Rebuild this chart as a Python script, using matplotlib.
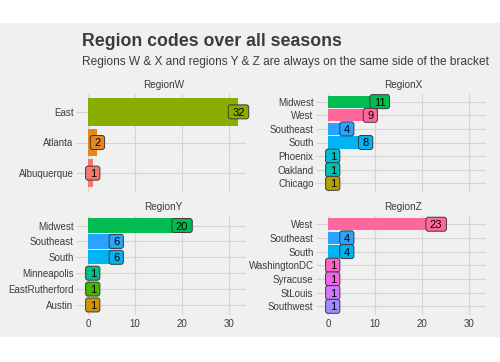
import matplotlib
matplotlib.use('Agg')
import matplotlib.pyplot as plt
from matplotlib.patches import Rectangle, FancyBboxPatch
from matplotlib.transforms import IdentityTransform

plt.rcParams['font.family'] = ['Liberation Sans', 'DejaVu Sans']

W_PX, H_PX = 500, 362
BG = '#F0F0F0'
GRID = '#D4D4D4'
TXT = '#3C3C3C'

# data
regions = ['RegionW', 'RegionX', 'RegionY', 'RegionZ']
w_cities = ['East', 'Atlanta', 'Albuquerque']
w_counts = [32, 2, 1]
x_cities = ['Midwest', 'West', 'Southeast', 'South', 'Phoenix', 'Oakland', 'Chicago']
x_counts = [11, 9, 4, 8, 1, 1, 1]
y_cities = ['Midwest', 'Southeast', 'South', 'Minneapolis', 'EastRutherford', 'Austin']
y_counts = [20, 6, 6, 1, 1, 1]
z_cities = ['West', 'Southeast', 'South', 'WashingtonDC', 'Syracuse', 'StLouis', 'Southwest']
z_counts = [23, 4, 4, 1, 1, 1, 1]
x_ticks = [0, 10, 20, 30]

# ggplot hue palette, one colour per city (alphabetical)
city_colors = {
    'Albuquerque': '#F8766D', 'Atlanta': '#E7851E', 'Austin': '#D09400',
    'Chicago': '#B2A100', 'East': '#89AC00', 'EastRutherford': '#45B500',
    'Midwest': '#00BC51', 'Minneapolis': '#00C087', 'Oakland': '#00C0B2',
    'Phoenix': '#00BCD6', 'South': '#00B3F2', 'Southeast': '#29A3FF',
    'Southwest': '#9C8DFF', 'StLouis': '#D277FF', 'Syracuse': '#F166E8',
    'WashingtonDC': '#FF61C7', 'West': '#FF689E',
}

# panel boxes in pixels: left, top, right, bottom
boxes = [(80.5, 93.5, 246, 191.5), (320.5, 93.5, 486, 191.5),
         (80.5, 216, 246, 314.5), (320.5, 216, 486, 314.5)]
panels = [(w_cities, w_counts), (x_cities, x_counts),
          (y_cities, y_counts), (z_cities, z_counts)]

LABEL_FS = 8

fig = plt.figure(figsize=(W_PX / 100, H_PX / 100), dpi=100)
fig.patch.set_facecolor('white')
fig.patches.append(Rectangle((0, 1 - 337 / H_PX), 1, (337 - 23) / H_PX,
                             transform=fig.transFigure, facecolor=BG,
                             edgecolor='none', zorder=-10))

fig.text(82 / W_PX, 1 - 42 / H_PX, 'Region codes over all seasons',
         fontsize=12.8, fontweight='bold', color=TXT, va='center')
fig.text(82 / W_PX, 1 - 62 / H_PX,
         'Regions W & X and regions Y & Z are always on the same side of the bracket',
         fontsize=8.6, color=TXT, va='center')

labels = []
for i, (region, (cities, counts), box) in enumerate(zip(regions, panels, boxes)):
    l, t, r, b = box
    ax = fig.add_axes([l / W_PX, 1 - b / H_PX, (r - l) / W_PX, (b - t) / H_PX])
    ax.set_facecolor(BG)
    n = len(cities)
    ypos = list(range(n - 1, -1, -1))
    cols = [city_colors[c] for c in cities]
    ax.barh(ypos, counts, height=0.9, color=cols, zorder=2)
    for yy, v, c in zip(ypos, counts, cols):
        # baseline shifted so the digits sit centred on the bar
        txt = ax.annotate(str(v), (v, yy), xytext=(0, -0.36 * LABEL_FS),
                          textcoords='offset points', ha='center', va='baseline',
                          fontsize=LABEL_FS, color='black', zorder=5,
                          annotation_clip=False)
        labels.append((ax, txt, v, yy, c))
    ax.set_xlim(-1.6, 33.6)
    ax.set_ylim(-0.6, n - 0.4)
    ax.set_yticks(ypos)
    ax.set_yticklabels(cities)
    ax.set_xticks(x_ticks)
    ax.grid(True, color=GRID, lw=0.8, zorder=0)
    ax.set_axisbelow(True)
    for s in ax.spines.values():
        s.set_visible(False)
    ax.tick_params(axis='y', length=3.5, color=GRID, width=0.8, pad=1.5,
                   labelsize=7, labelcolor=TXT)
    ax.tick_params(axis='x', length=0, pad=3, labelsize=7, labelcolor=TXT,
                   labelbottom=(i >= 2))
    fig.text((l + r) / 2 / W_PX, 1 - (t - 8.5) / H_PX, region, fontsize=7.2,
             color=TXT, ha='center', va='center')

# rounded label boxes (like geom_label), sized around each text in pixels
fig.canvas.draw()
for ax, txt, v, yy, c in labels:
    bb = txt.get_window_extent()
    cx, cy = ax.transData.transform((v, yy))
    w = bb.width + 8
    h = 14
    patch = FancyBboxPatch((cx - w / 2, cy - h / 2), w, h,
                           boxstyle='round,pad=0,rounding_size=2.5',
                           transform=IdentityTransform(), fc=c, ec='#3a3a3a',
                           lw=0.7, zorder=4, clip_on=False)
    ax.add_artist(patch)

fig.savefig('out.png', dpi=100)
